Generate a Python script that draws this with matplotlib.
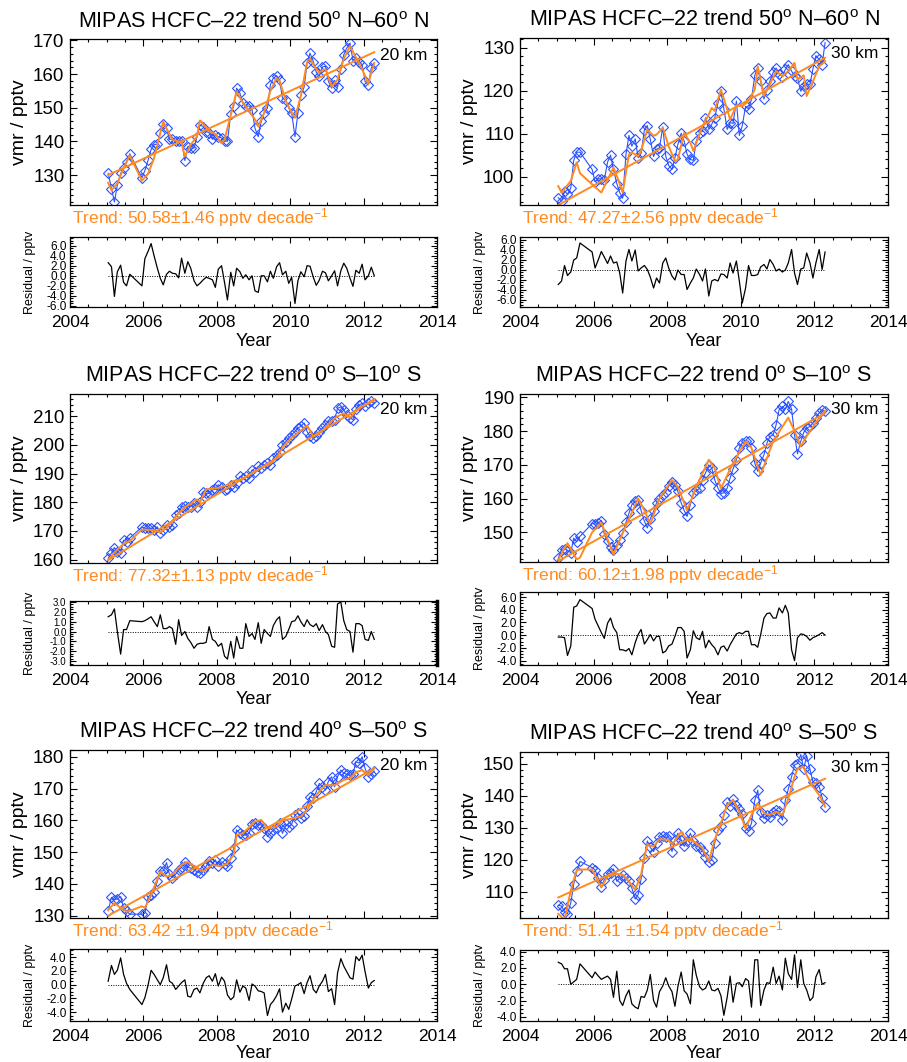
import matplotlib.pyplot as plt
from matplotlib.ticker import MultipleLocator, FormatStrFormatter

plt.rcParams['font.family'] = ['Liberation Sans', 'DejaVu Sans']
plt.rcParams['mathtext.fontset'] = 'custom'
plt.rcParams['mathtext.rm'] = 'Liberation Sans'
plt.rcParams['mathtext.it'] = 'Liberation Sans:italic'
plt.rcParams['axes.unicode_minus'] = False

# monthly means (Sep-Nov 2005 missing)
months = [2005.04, 2005.13, 2005.21, 2005.29, 2005.38, 2005.46, 2005.54, 2005.63, 2005.96,
          2006.04, 2006.13, 2006.21, 2006.29, 2006.38, 2006.46, 2006.54, 2006.63, 2006.71, 2006.79, 2006.88, 2006.96,
          2007.04, 2007.13, 2007.21, 2007.29, 2007.38, 2007.46, 2007.54, 2007.63, 2007.71, 2007.79, 2007.88, 2007.96,
          2008.04, 2008.13, 2008.21, 2008.29, 2008.38, 2008.46, 2008.54, 2008.63, 2008.71, 2008.79, 2008.88, 2008.96,
          2009.04, 2009.13, 2009.21, 2009.29, 2009.38, 2009.46, 2009.54, 2009.63, 2009.71, 2009.79, 2009.88, 2009.96,
          2010.04, 2010.13, 2010.21, 2010.29, 2010.38, 2010.46, 2010.54, 2010.63, 2010.71, 2010.79, 2010.88, 2010.96,
          2011.04, 2011.13, 2011.21, 2011.29, 2011.38, 2011.46, 2011.54, 2011.63, 2011.71, 2011.79, 2011.88, 2011.96,
          2012.04, 2012.13, 2012.21, 2012.29]

# ---- 50N-60N, 20 km
vmr_a = [130.5, 126.0, 122.0, 127.0, 130.5, 132.0, 134.0, 136.3, 129.2,
         131.3, 134.5, 137.6, 139.0, 139.2, 142.6, 145.2, 143.9, 140.6, 140.6, 140.2, 140.0,
         140.2, 134.3, 138.4, 138.0, 138.0, 141.4, 144.9, 144.4, 142.9, 142.6, 140.6, 141.9,
         141.4, 141.0, 140.2, 140.0, 148.2, 150.4, 155.8, 154.3, 151.3, 150.4, 150.5, 149.4,
         143.9, 141.4, 145.9, 148.4, 149.9, 156.8, 158.8, 159.5, 158.3, 152.8, 152.3, 149.9,
         148.4, 141.4, 148.4, 153.8, 156.1, 163.3, 166.2, 163.7, 160.5, 159.3, 162.1, 162.3,
         157.8, 155.8, 158.1, 156.1, 161.5, 165.7, 167.7, 169.2, 164.0, 164.7, 163.7, 162.8,
         157.8, 156.8, 161.8, 163.3]
res_a = [2.6, 1.8, -4.1, 0.8, 2.1, -1.3, -2.0, 0.3, -2.0,
         3.4, 4.9, 6.4, 4.0, 1.5, -0.5, -1.8, 0.3, 0.9, 0.5, 0.4, -0.4,
         3.5, 0.5, 2.8, 1.5, -1.0, -2.0, -1.5, -0.8, -0.3, -0.5, -0.8, -2.3,
         1.3, 2.0, -1.3, -4.8, 0.7, -2.0, 1.5, 0.8, -0.5, 0.2, -0.8, 0.0,
         -3.0, -3.3, 0.0, 0.0, -1.2, 0.9, -0.5, 1.8, 2.6, 0.2, 0.9, -1.5,
         -0.3, -5.5, -1.0, 0.8, -0.2, 2.0, 1.9, -0.3, -1.9, -0.9, 0.9, 0.6,
         -1.0, 0.0, 1.0, -2.0, 1.0, 2.5, 1.5, -0.5, -2.1, 1.1, 0.5, 2.3,
         -0.8, 0.0, 1.7, 0.0]
fit_t_a = [2005.04, 2005.13, 2005.29, 2005.46, 2005.63, 2005.96, 2006.13, 2006.29, 2006.54, 2006.63,
           2006.79, 2006.96, 2007.04, 2007.13, 2007.29, 2007.46, 2007.54, 2007.63, 2007.79, 2007.96,
           2008.13, 2008.21, 2008.38, 2008.54, 2008.71, 2008.88, 2009.04, 2009.13, 2009.29, 2009.46,
           2009.63, 2009.71, 2009.88, 2010.04, 2010.13, 2010.29, 2010.46, 2010.54, 2010.71, 2010.79,
           2010.96, 2011.13, 2011.29, 2011.46, 2011.63, 2011.79, 2011.96, 2012.13, 2012.21, 2012.29]
fit_v_a = [127.7, 125.5, 127.5, 132.0, 135.8, 128.3, 130.5, 135.0, 145.9, 143.8,
           140.5, 140.0, 139.8, 135.5, 139.0, 141.5, 146.2, 145.2, 143.0, 142.2,
           139.4, 140.5, 147.8, 154.8, 151.5, 149.0, 146.5, 144.5, 148.5, 155.0,
           158.8, 158.0, 152.0, 148.5, 147.0, 153.5, 163.5, 164.5, 161.5, 160.5,
           161.5, 156.3, 158.3, 164.5, 168.3, 165.0, 161.5, 157.0, 160.5, 163.2]
trend_a = [130.0, 166.5]

# ---- 50N-60N, 30 km
vmr_b = [95.1, 94.3, 96.7, 95.9, 97.4, 103.8, 105.7, 105.7, 101.7,
         98.8, 99.5, 99.5, 99.2, 103.4, 105.0, 101.7, 98.4, 96.3, 95.0, 105.2, 109.6,
         107.1, 108.8, 104.4, 105.4, 110.9, 111.9, 108.7, 104.7, 106.4, 106.7, 111.6, 104.8,
         102.6, 101.7, 104.4, 107.5, 110.1, 108.3, 105.2, 104.0, 103.8, 108.3, 110.2, 110.6,
         113.7, 111.0, 112.2, 113.7, 117.2, 119.9, 115.8, 111.0, 112.6, 112.4, 117.6, 109.6,
         111.9, 116.4, 115.8, 118.0, 123.6, 125.3, 122.2, 118.1, 120.3, 122.2, 124.3, 125.3,
         124.0, 123.3, 125.0, 126.1, 124.6, 123.4, 123.0, 119.9, 121.2, 121.5, 121.5, 125.1,
         128.2, 127.3, 126.1, 131.2]
res_b = [-3.0, -2.3, 0.8, -1.2, -0.5, 1.9, 2.3, 5.3, 3.5,
         0.3, 2.0, 3.6, 2.5, 1.2, 2.7, 1.3, 1.5, -0.7, -4.7, 1.7, 4.0,
         1.7, 3.9, -0.3, 0.3, 0.8, 0.0, -1.5, -3.7, -1.7, -2.7, 1.3, 2.3,
         0.3, -1.3, -2.1, -0.1, -1.0, -1.0, -4.0, -2.7, -1.7, 0.1, -1.0, -2.3,
         0.1, -5.3, -2.3, -2.0, -2.3, -0.9, -1.0, -1.7, 1.3, -0.7, 1.7, -2.3,
         -6.7, -3.7, 0.8, -1.2, -1.2, -1.0, 0.5, 1.0, 0.1, 2.0, 1.0, -0.3,
         0.1, -0.5, -0.1, 1.3, 4.0, -0.7, -3.0, 0.1, 0.3, 3.3, 1.3, -1.7,
         1.3, 4.0, 0.0, 3.5]
fit_t_b = [2005.04, 2005.13, 2005.38, 2005.54, 2005.63, 2005.96, 2006.21, 2006.54, 2006.63, 2006.79,
           2006.96, 2007.04, 2007.21, 2007.29, 2007.46, 2007.63, 2007.71, 2007.88, 2008.04, 2008.21,
           2008.29, 2008.46, 2008.63, 2008.71, 2008.96, 2009.13, 2009.21, 2009.29, 2009.46, 2009.63,
           2009.71, 2009.88, 2010.04, 2010.21, 2010.38, 2010.46, 2010.63, 2010.79, 2010.96, 2011.13,
           2011.29, 2011.46, 2011.54, 2011.71, 2011.79, 2011.96, 2012.13, 2012.29]
fit_v_b = [97.8, 96.3, 99.0, 103.3, 100.8, 98.2, 96.3, 102.1, 100.2, 96.3,
           105.2, 105.6, 104.8, 106.0, 111.0, 109.5, 109.8, 111.4, 107.1, 103.6,
           104.0, 110.2, 107.9, 106.0, 111.8, 114.5, 116.0, 115.3, 120.3, 115.7,
           113.3, 116.6, 116.4, 117.6, 120.3, 125.7, 118.8, 121.5, 124.6, 123.4,
           124.6, 126.5, 122.6, 123.6, 118.8, 122.2, 125.7, 126.9]
trend_b = [93.4, 127.7]

# ---- 0S-10S, 20 km
vmr_c = [160.4, 162.3, 164.2, 162.7, 162.3, 166.8, 166.3, 167.5, 171.4,
         170.9, 170.9, 170.9, 170.3, 171.4, 169.1, 170.3, 172.0, 171.4, 172.0, 175.5, 176.1,
         178.5, 178.7, 178.5, 178.5, 179.6, 178.5, 180.2, 183.7, 183.1, 183.1, 184.3, 184.5,
         186.1, 185.5, 184.3, 184.5, 186.1, 185.5, 186.6, 189.0, 188.4, 189.0, 188.4, 191.3,
         190.7, 192.5, 191.9, 193.1, 193.6, 193.1, 195.4, 196.6, 197.7, 200.1, 201.2, 202.4,
         203.6, 204.7, 205.9, 206.5, 207.7, 204.7, 203.0, 202.4, 203.0, 204.7, 205.9, 207.1,
         208.2, 208.5, 208.8, 212.8, 213.3, 212.3, 210.5, 209.5, 208.8, 212.5, 214.0, 214.5,
         213.5, 214.7, 215.5, 214.8]
res_c = [1.5, 1.7, 2.3, 0.0, -2.3, 0.2, 0.2, 1.1, 1.0,
         1.1, 1.3, 1.5, 1.0, 0.5, 1.7, 0.3, 0.3, 0.5, 0.3, -1.3, 1.2,
         -0.4, 0.0, -0.7, -1.1, -1.7, -1.3, -1.2, -1.2, -1.1, 0.5, -0.8, -1.0,
         -1.5, -1.2, -2.5, -2.8, -1.0, -2.7, -0.5, -1.7, -1.7, 0.8, -0.5, -0.2,
         -0.8, 0.9, -1.2, 0.2, -0.2, -0.5, 0.6, 1.2, 1.5, -0.8, -0.5, 0.2,
         1.0, 1.1, 1.6, 1.0, 0.5, 1.2, 0.7, 0.5, 0.8, 0.1, 0.7, 0.0,
         -0.3, -1.5, -1.6, 2.8, 3.0, 1.1, 0.2, 0.0, -2.1, 0.8, 0.8, 0.6,
         -0.8, -0.9, 0.0, -0.8]
fit_t_c = [2005.04, 2005.21, 2005.46, 2005.63, 2005.96, 2006.29, 2006.46, 2006.63, 2006.88, 2007.13,
           2007.29, 2007.46, 2007.54, 2007.71, 2008.04, 2008.29, 2008.46, 2008.63, 2008.88, 2009.21,
           2009.46, 2009.63, 2009.79, 2010.04, 2010.29, 2010.46, 2010.63, 2010.79, 2010.96, 2011.13,
           2011.29, 2011.46, 2011.63, 2011.79, 2011.96, 2012.13, 2012.29]
fit_v_c = [159.8, 162.5, 165.5, 166.5, 170.5, 170.3, 169.5, 171.0, 175.0, 178.3,
           179.5, 181.0, 180.0, 184.5, 185.0, 186.0, 187.5, 187.8, 189.5, 192.0,
           193.5, 195.5, 199.0, 202.5, 205.0, 206.8, 203.0, 204.0, 206.0, 208.5,
           210.0, 211.0, 209.5, 211.7, 213.5, 214.5, 215.5]
trend_c = [159.8, 216.0]

# ---- 0S-10S, 30 km
vmr_d = [142.4, 144.9, 145.2, 144.6, 144.0, 148.3, 147.2, 148.8, 152.6,
         152.4, 152.8, 153.5, 149.5, 147.3, 145.5, 144.9, 146.3, 147.8, 149.8, 153.0, 155.6,
         158.2, 159.2, 159.7, 156.5, 153.3, 151.3, 154.0, 156.2, 158.7, 159.9, 161.2, 162.0,
         163.6, 164.8, 164.1, 162.1, 158.7, 156.5, 154.7, 158.2, 161.7, 162.4, 163.0, 165.6,
         167.6, 170.0, 169.1, 165.6, 163.1, 161.5, 161.7, 163.1, 166.1, 168.8, 171.5, 175.0,
         176.5, 177.2, 177.0, 175.0, 170.5, 168.1, 170.5, 173.0, 176.5, 178.4, 178.9, 181.9,
         186.3, 187.3, 186.5, 188.8, 186.5, 178.9, 173.3, 177.0, 179.6, 180.9, 181.4, 182.4,
         183.9, 185.4, 186.3, 185.9]
res_d = [-0.3, -0.3, -0.4, -3.2, -1.7, 4.4, 4.6, 5.6, 4.2,
         2.5, 1.4, 0.4, -0.5, 1.9, 2.7, 1.2, 0.4, -2.3, -2.3, -2.5, -2.1,
         -3.1, -1.2, 0.1, 0.9, -1.4, -0.7, 0.1, -0.9, -0.2, -0.2, -2.8, -2.5,
         -1.7, -1.4, -0.2, 1.2, 1.2, 0.6, -3.6, -2.3, 0.7, -0.4, -0.7, 0.6,
         -2.0, -0.8, -1.5, -2.0, -3.1, -1.9, -1.7, -2.5, -1.5, -0.7, 0.2, 0.4,
         0.2, 0.6, 0.6, -1.5, -1.5, -1.9, 0.1, 2.7, 3.4, 3.5, 2.7, 2.7,
         4.3, 3.5, 4.7, 3.5, -2.3, -4.0, -0.4, 0.2, 0.1, -0.2, -0.8, -0.4,
         -0.2, 0.1, 0.4, 0.0]
fit_t_d = [2005.04, 2005.29, 2005.54, 2005.63, 2005.96, 2006.21, 2006.54, 2006.88, 2007.21, 2007.38,
           2007.54, 2007.79, 2008.13, 2008.29, 2008.54, 2008.79, 2009.13, 2009.29, 2009.46, 2009.79,
           2010.13, 2010.29, 2010.54, 2010.88, 2011.29, 2011.46, 2011.63, 2011.79, 2012.04, 2012.29]
fit_v_d = [141.9, 146.8, 142.0, 142.5, 150.0, 152.8, 143.4, 152.0, 160.0, 156.5,
           152.5, 160.0, 165.5, 163.5, 156.5, 163.5, 171.5, 169.0, 163.0, 170.5,
           177.0, 175.0, 167.0, 177.0, 184.0, 180.0, 175.5, 178.5, 182.5, 186.0]
trend_d = [141.5, 185.3]

# ---- 40S-50S, 20 km
vmr_e = [131.6, 135.8, 135.0, 135.3, 136.0, 132.4, 131.5, 130.5, 130.5,
         130.8, 136.0, 136.6, 137.6, 140.8, 144.1, 144.1, 146.7, 143.1, 142.0, 143.1, 144.4,
         145.2, 147.0, 145.2, 145.0, 144.4, 143.9, 143.4, 144.4, 145.5, 147.3, 146.5, 147.6,
         145.5, 147.0, 146.3, 145.5, 148.3, 151.2, 157.0, 155.9, 155.4, 155.4, 155.9, 158.8,
         159.1, 158.6, 158.6, 157.5, 154.9, 155.9, 157.0, 157.7, 159.1, 155.9, 158.8, 158.0,
         158.8, 161.7, 162.2, 160.6, 161.5, 164.6, 167.4, 166.9, 169.0, 171.6, 170.6, 169.5,
         172.2, 173.7, 170.5, 173.7, 175.8, 174.8, 174.5, 174.2, 174.5, 178.4, 178.0, 180.0,
         176.3, 173.7, 174.5, 175.5]
res_e = [0.5, 2.8, 1.5, 2.1, 3.9, 1.5, 0.2, -0.7, -2.9,
         -1.9, 0.0, 2.1, 1.5, 0.7, 0.0, 1.0, 2.9, 0.5, 0.2, -0.7, -0.2,
         0.3, 0.7, -1.7, -1.8, -0.7, -0.5, -1.2, 0.2, 1.0, 1.3, 0.5, 1.6,
         -0.2, 1.1, 0.5, -1.5, -2.2, -1.8, 0.7, -1.1, -0.2, -0.5, -2.3, 0.1,
         -0.2, -0.9, -1.0, -1.2, -4.5, -2.9, -2.4, -1.6, -0.6, -4.0, -2.7, -3.6,
         -2.1, -0.2, 0.0, 0.3, -1.3, 0.3, 1.3, -0.7, -1.2, -0.2, 0.5, 1.5,
         -1.0, -0.6, -2.9, 1.7, 3.8, 2.7, 1.9, 1.0, 0.8, 4.1, 3.5, 4.3,
         1.9, -0.5, 0.3, 0.6]
fit_t_e = [2005.04, 2005.21, 2005.38, 2005.54, 2005.63, 2005.96, 2006.04, 2006.21, 2006.46, 2006.63,
           2006.79, 2007.04, 2007.21, 2007.38, 2007.63, 2007.88, 2008.13, 2008.29, 2008.46, 2008.54,
           2008.71, 2009.04, 2009.21, 2009.38, 2009.63, 2009.79, 2010.04, 2010.29, 2010.46, 2010.71,
           2010.96, 2011.21, 2011.46, 2011.63, 2011.79, 2011.96, 2012.13, 2012.29]
fit_v_e = [131.8, 134.0, 132.5, 131.3, 131.5, 133.0, 132.5, 136.5, 143.9, 142.3,
           143.0, 146.0, 147.0, 145.5, 143.9, 146.0, 145.5, 146.5, 149.1, 155.4,
           155.9, 159.6, 160.1, 157.5, 158.0, 160.0, 160.5, 161.2, 163.3, 168.0,
           171.1, 171.0, 172.7, 173.2, 175.1, 175.8, 174.2, 176.5]
trend_e = [130.0, 176.3]

# ---- 40S-50S, 30 km
vmr_f = [105.9, 105.6, 103.8, 103.2, 106.6, 112.5, 116.4, 119.5, 117.6,
         116.9, 114.3, 111.4, 113.8, 115.6, 116.0, 117.2, 113.3, 114.3, 115.2, 114.3, 113.3,
         111.2, 107.8, 109.2, 114.0, 120.7, 125.9, 123.9, 122.6, 125.2, 127.0, 127.5, 127.0,
         127.3, 122.6, 126.2, 128.3, 126.2, 124.2, 126.0, 128.3, 125.9, 124.2, 123.9, 122.8,
         121.0, 119.3, 120.0, 125.2, 129.3, 130.4, 134.0, 137.9, 136.9, 138.9, 137.1, 135.8,
         134.2, 129.8, 129.0, 131.4, 138.6, 141.7, 134.8, 132.9, 134.0, 133.5, 135.0, 135.5,
         135.2, 132.4, 138.6, 142.0, 145.9, 149.6, 150.0, 152.8, 148.4, 152.4, 148.2, 144.3,
         143.8, 142.8, 139.4, 136.6]
res_f = [2.7, 2.5, 1.9, 1.9, 0.0, 0.3, 0.6, 2.5, 0.8,
         1.5, 1.0, 0.6, 0.8, 1.0, 0.6, -1.6, 1.6, -2.0, -2.6, -1.4, -0.7,
         -2.4, -2.8, -3.0, -1.5, -1.6, -0.7, 1.2, -2.0, -2.8, -0.9, -0.2, 0.8,
         -0.2, -0.9, -2.7, -0.3, 1.5, -0.8, -1.2, -2.4, 3.0, 1.1, -0.3, -0.7,
         -0.5, 0.4, -0.7, -0.8, -0.5, -1.4, -3.8, -1.6, 1.0, -2.2, 0.1, 0.2,
         -0.3, 0.7, 0.4, -2.8, 3.0, 3.0, -2.6, -0.7, 0.2, 0.1, 2.1, 0.1,
         1.0, -0.7, 3.2, 1.3, 0.6, 3.6, -0.4, 3.0, 0.1, -0.7, -2.0, -1.6,
         0.9, 1.8, 0.0, 0.2]
fit_t_f = [2005.04, 2005.21, 2005.38, 2005.54, 2005.63, 2005.96, 2006.21, 2006.38, 2006.63, 2006.79,
           2006.96, 2007.13, 2007.29, 2007.38, 2007.46, 2007.63, 2007.79, 2008.04, 2008.13, 2008.38,
           2008.54, 2008.71, 2008.96, 2009.13, 2009.29, 2009.46, 2009.63, 2009.79, 2009.96, 2010.13,
           2010.29, 2010.46, 2010.63, 2010.79, 2010.96, 2011.13, 2011.29, 2011.46, 2011.54, 2011.71,
           2011.79, 2011.96, 2012.13, 2012.29]
fit_v_f = [103.2, 101.3, 110.5, 116.8, 117.0, 117.0, 111.4, 114.9, 115.6, 115.4,
           113.3, 110.7, 115.4, 121.0, 124.7, 124.2, 126.5, 126.2, 124.7, 128.8,
           126.2, 125.9, 123.6, 119.5, 126.2, 131.4, 137.1, 138.6, 135.0, 129.8,
           134.0, 137.6, 134.5, 134.0, 135.0, 134.0, 139.1, 145.9, 148.4, 149.0,
           146.4, 142.8, 140.2, 136.6]
trend_f = [108.3, 145.3]

titles = ['MIPAS HCFC\u201322 trend 50$^{\\rm o}$ N\u201360$^{\\rm o}$ N',
          'MIPAS HCFC\u201322 trend 0$^{\\rm o}$ S\u201310$^{\\rm o}$ S',
          'MIPAS HCFC\u201322 trend 40$^{\\rm o}$ S\u201350$^{\\rm o}$ S']
trend_labels = ['Trend: 50.58\u00b11.46 pptv decade$^{-1}$',
                'Trend: 47.27\u00b12.56 pptv decade$^{-1}$',
                'Trend: 77.32\u00b11.13 pptv decade$^{-1}$',
                'Trend: 60.12\u00b11.98 pptv decade$^{-1}$',
                'Trend: 63.42 \u00b11.94 pptv decade$^{-1}$',
                'Trend: 51.41 \u00b11.54 pptv decade$^{-1}$']

BLUE = '#2a52ff'
ORANGE = '#ff8a1f'
W, H = 907, 1062

fig = plt.figure(figsize=(W / 100, H / 100), dpi=100)


def add_ax(l, t, r, b):
    return fig.add_axes([l / W, 1 - b / H, (r - l) / W, (b - t) / H])


def style(ax, major=5, minor=2.5):
    ax.tick_params(which='both', direction='in', top=True, right=True, width=0.8)
    ax.tick_params(which='major', length=major)
    ax.tick_params(which='minor', length=minor)
    for s in ax.spines.values():
        s.set_linewidth(0.9)


def draw(main, rbox, vmr, res, fit_t, fit_v, trend, ylim, ystep, rylim, rstep,
         title, alt, tlabel, rminor, rsize=8.5, year_off=35):
    l, t, r, b = main
    ax = add_ax(*main)
    ax.plot(months, vmr, color=BLUE, lw=0.8, marker='D', ms=5.5, mfc='none', mec=BLUE, mew=0.8)
    ax.plot(fit_t, fit_v, color=ORANGE, lw=1.4)
    ax.plot([months[0], months[-1]], trend, color=ORANGE, lw=1.4)
    ax.set_xlim(2004, 2014)
    ax.set_ylim(*ylim)
    ax.xaxis.set_major_locator(MultipleLocator(2))
    ax.xaxis.set_minor_locator(MultipleLocator(0.5))
    ax.yaxis.set_major_locator(MultipleLocator(ystep))
    ax.yaxis.set_minor_locator(MultipleLocator(ystep / 5))
    style(ax)
    ax.tick_params(labelbottom=False, labelsize=13.5, pad=4)
    fig.text((l + r) / 2 / W, 1 - (t - 17) / H, title, ha='center', va='center', fontsize=15.5)
    fig.text((l - 50) / W, 1 - (t + b) / 2 / H, 'vmr / pptv', rotation=90,
             ha='center', va='center', fontsize=14)
    fig.text((r - 10) / W, 1 - (t + 16) / H, alt, ha='right', va='center', fontsize=12.5)
    fig.text((l + 2) / W, 1 - (b + 13) / H, tlabel, ha='left', va='center',
             fontsize=12.5, color=ORANGE)

    l, t, r, b = rbox
    rx = add_ax(*rbox)
    rx.plot(months, res, color='black', lw=0.9)
    rx.plot([months[0], months[-1]], [0, 0], color='black', lw=0.7, ls=(0, (1, 1.5)))
    rx.set_xlim(2004, 2014)
    rx.set_ylim(*rylim)
    rx.xaxis.set_major_locator(MultipleLocator(2))
    rx.xaxis.set_minor_locator(MultipleLocator(0.5))
    rx.yaxis.set_major_locator(MultipleLocator(rstep))
    rx.yaxis.set_minor_locator(MultipleLocator(rminor))
    rx.yaxis.set_major_formatter(FormatStrFormatter('%.1f'))
    style(rx, 4, 2)
    rx.tick_params(axis='x', labelsize=12.5, pad=6)
    rx.tick_params(axis='y', labelsize=rsize, pad=2.5)
    fig.text((l + r) / 2 / W, 1 - (b + year_off) / H, 'Year', ha='center', va='center', fontsize=13)
    fig.text((l - 40) / W, 1 - (t + b) / 2 / H, 'Residual / pptv', rotation=90,
             ha='center', va='center', fontsize=9)
    return ax, rx


draw((70, 39, 437, 205), (70, 237, 437, 307), vmr_a, res_a, fit_t_a, fit_v_a, trend_a,
     (121.1, 170.4), 10, (-6.2, 7.7), 2, titles[0], '20 km', trend_labels[0], 0.5)
draw((520, 38, 888, 205), (520, 237, 888, 307), vmr_b, res_b, fit_t_b, fit_v_b, trend_b,
     (93.4, 132.3), 10, (-7.5, 6.5), 2, titles[0], '30 km', trend_labels[1], 0.5)
_, rc = draw((70, 394, 437, 563), (70, 601, 437, 665), vmr_c, res_c, fit_t_c, fit_v_c, trend_c,
             (158.8, 217.8), 10, (-3.4, 3.1), 1, titles[1], '20 km', trend_labels[2], 0.25,
             rsize=7)
rc.spines['right'].set_linewidth(2.5)
draw((520, 394, 888, 562), (520, 592, 888, 665), vmr_d, res_d, fit_t_d, fit_v_d, trend_d,
     (141.2, 191.0), 10, (-4.7, 6.8), 2, titles[1], '30 km', trend_labels[3], 0.5)
draw((70, 750, 437, 918), (70, 949, 437, 1021), vmr_e, res_e, fit_t_e, fit_v_e, trend_e,
     (129.3, 182.1), 10, (-5.3, 5.2), 2, titles[2], '20 km', trend_labels[4], 0.5, year_off=32)
draw((520, 752, 888, 918), (520, 950, 888, 1021), vmr_f, res_f, fit_t_f, fit_v_f, trend_f,
     (101.9, 153.6), 10, (-4.5, 4.2), 2, titles[2], '30 km', trend_labels[5], 0.5, year_off=32)

fig.savefig('out.png', dpi=100)
